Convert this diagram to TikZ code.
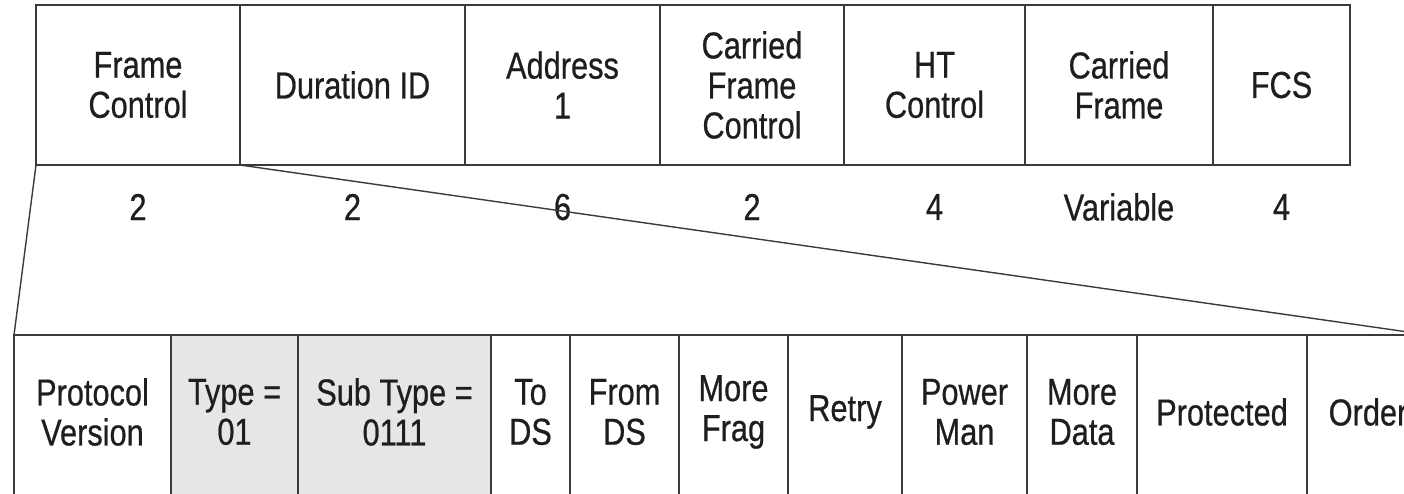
\documentclass[tikz,border=0pt]{standalone}
\usepackage{fontspec}
\setmainfont{Liberation Sans}[FakeStretch=0.82,FakeBold=0.6]
\definecolor{rule}{HTML}{3A3A3A}
\definecolor{shade}{HTML}{E6E6E6}
\definecolor{ink}{HTML}{1E1E1E}
\begin{document}
\begin{tikzpicture}[x=1pt,y=-1pt,
  txt/.style={text=ink,font=\fontsize{37.5}{40}\selectfont,align=center},
  field/.style={draw=rule,line width=1.7pt,inner sep=0pt,outer sep=0pt,
    anchor=north west,minimum height=160pt,txt},
  bit/.style={draw=rule,line width=1.7pt,inner sep=0pt,outer sep=0pt,
    anchor=north west,minimum height=170pt},
  bittext/.style={label={[txt,yshift=8pt]center:#1}},
  greyed/.style={fill=shade},
  size/.style={txt,inner sep=0pt},
  zoomline/.style={draw=rule,line width=1.4pt}]
\useasboundingbox (0,0) rectangle (1404,493);

% MAC header fields
\node[field,minimum width=204pt] (fc)   at (36,5)   {Frame\\Control};
\node[field,minimum width=225pt] (dur)  at (240,5)  {Duration ID};
\node[field,minimum width=195pt] (addr) at (465,5)  {Address\\1};
\node[field,minimum width=184pt] (cfc)  at (660,5)  {Carried\\Frame\\Control};
\node[field,minimum width=181pt] (htc)  at (844,5)  {HT\\Control};
\node[field,minimum width=188pt] (cf)   at (1025,5) {Carried\\Frame};
\node[field,minimum width=137pt] (fcs)  at (1213,5) {FCS};

% field sizes in octets
\node[size] (s-fc)   at ([yshift=-42pt]fc.south)   {2};
\node[size] (s-dur)  at ([yshift=-42pt]dur.south)  {2};
\node[size] (s-addr) at ([yshift=-42pt]addr.south) {6};
\node[size] (s-cfc)  at ([yshift=-42pt]cfc.south)  {2};
\node[size] (s-htc)  at ([yshift=-42pt]htc.south)  {4};
\node[size] (s-cf)   at ([yshift=-42pt]cf.south)   {Variable};
\node[size] (s-fcs)  at ([yshift=-42pt]fcs.south)  {4};

% Frame Control subfields
\node[bit,minimum width=157pt,bittext={Protocol\\Version}] (pv) at (14,335) {};
\node[bit,greyed,minimum width=127pt,bittext={Type =\\01}] (ty) at (171,335) {};
\node[bit,greyed,minimum width=193pt,bittext={Sub Type =\\0111}] (st) at (298,335) {};
\node[bit,minimum width=79pt,bittext={To\\DS}] (tds) at (491,335) {};
\node[bit,minimum width=109pt,bittext={From\\DS}] (fds) at (570,335) {};
\node[bit,minimum width=109pt,bittext={More\\Frag}] (mf) at (679,335) {};
\node[bit,minimum width=114pt,bittext={Retry}] (rt) at (788,335) {};
\node[bit,minimum width=125pt,bittext={Power\\Man}] (pm) at (902,335) {};
\node[bit,minimum width=110pt,bittext={More\\Data}] (md) at (1027,335) {};
\node[bit,minimum width=170pt,bittext={Protected}] (pr) at (1137,335) {};
\node[bit,minimum width=122pt,bittext={Order}] (ord) at (1307,335) {};

% expansion lines
\draw[zoomline] (fc.south west) -- (pv.north west);
\draw[zoomline] (fc.south east) -- (ord.north east);
\end{tikzpicture}
\end{document}
